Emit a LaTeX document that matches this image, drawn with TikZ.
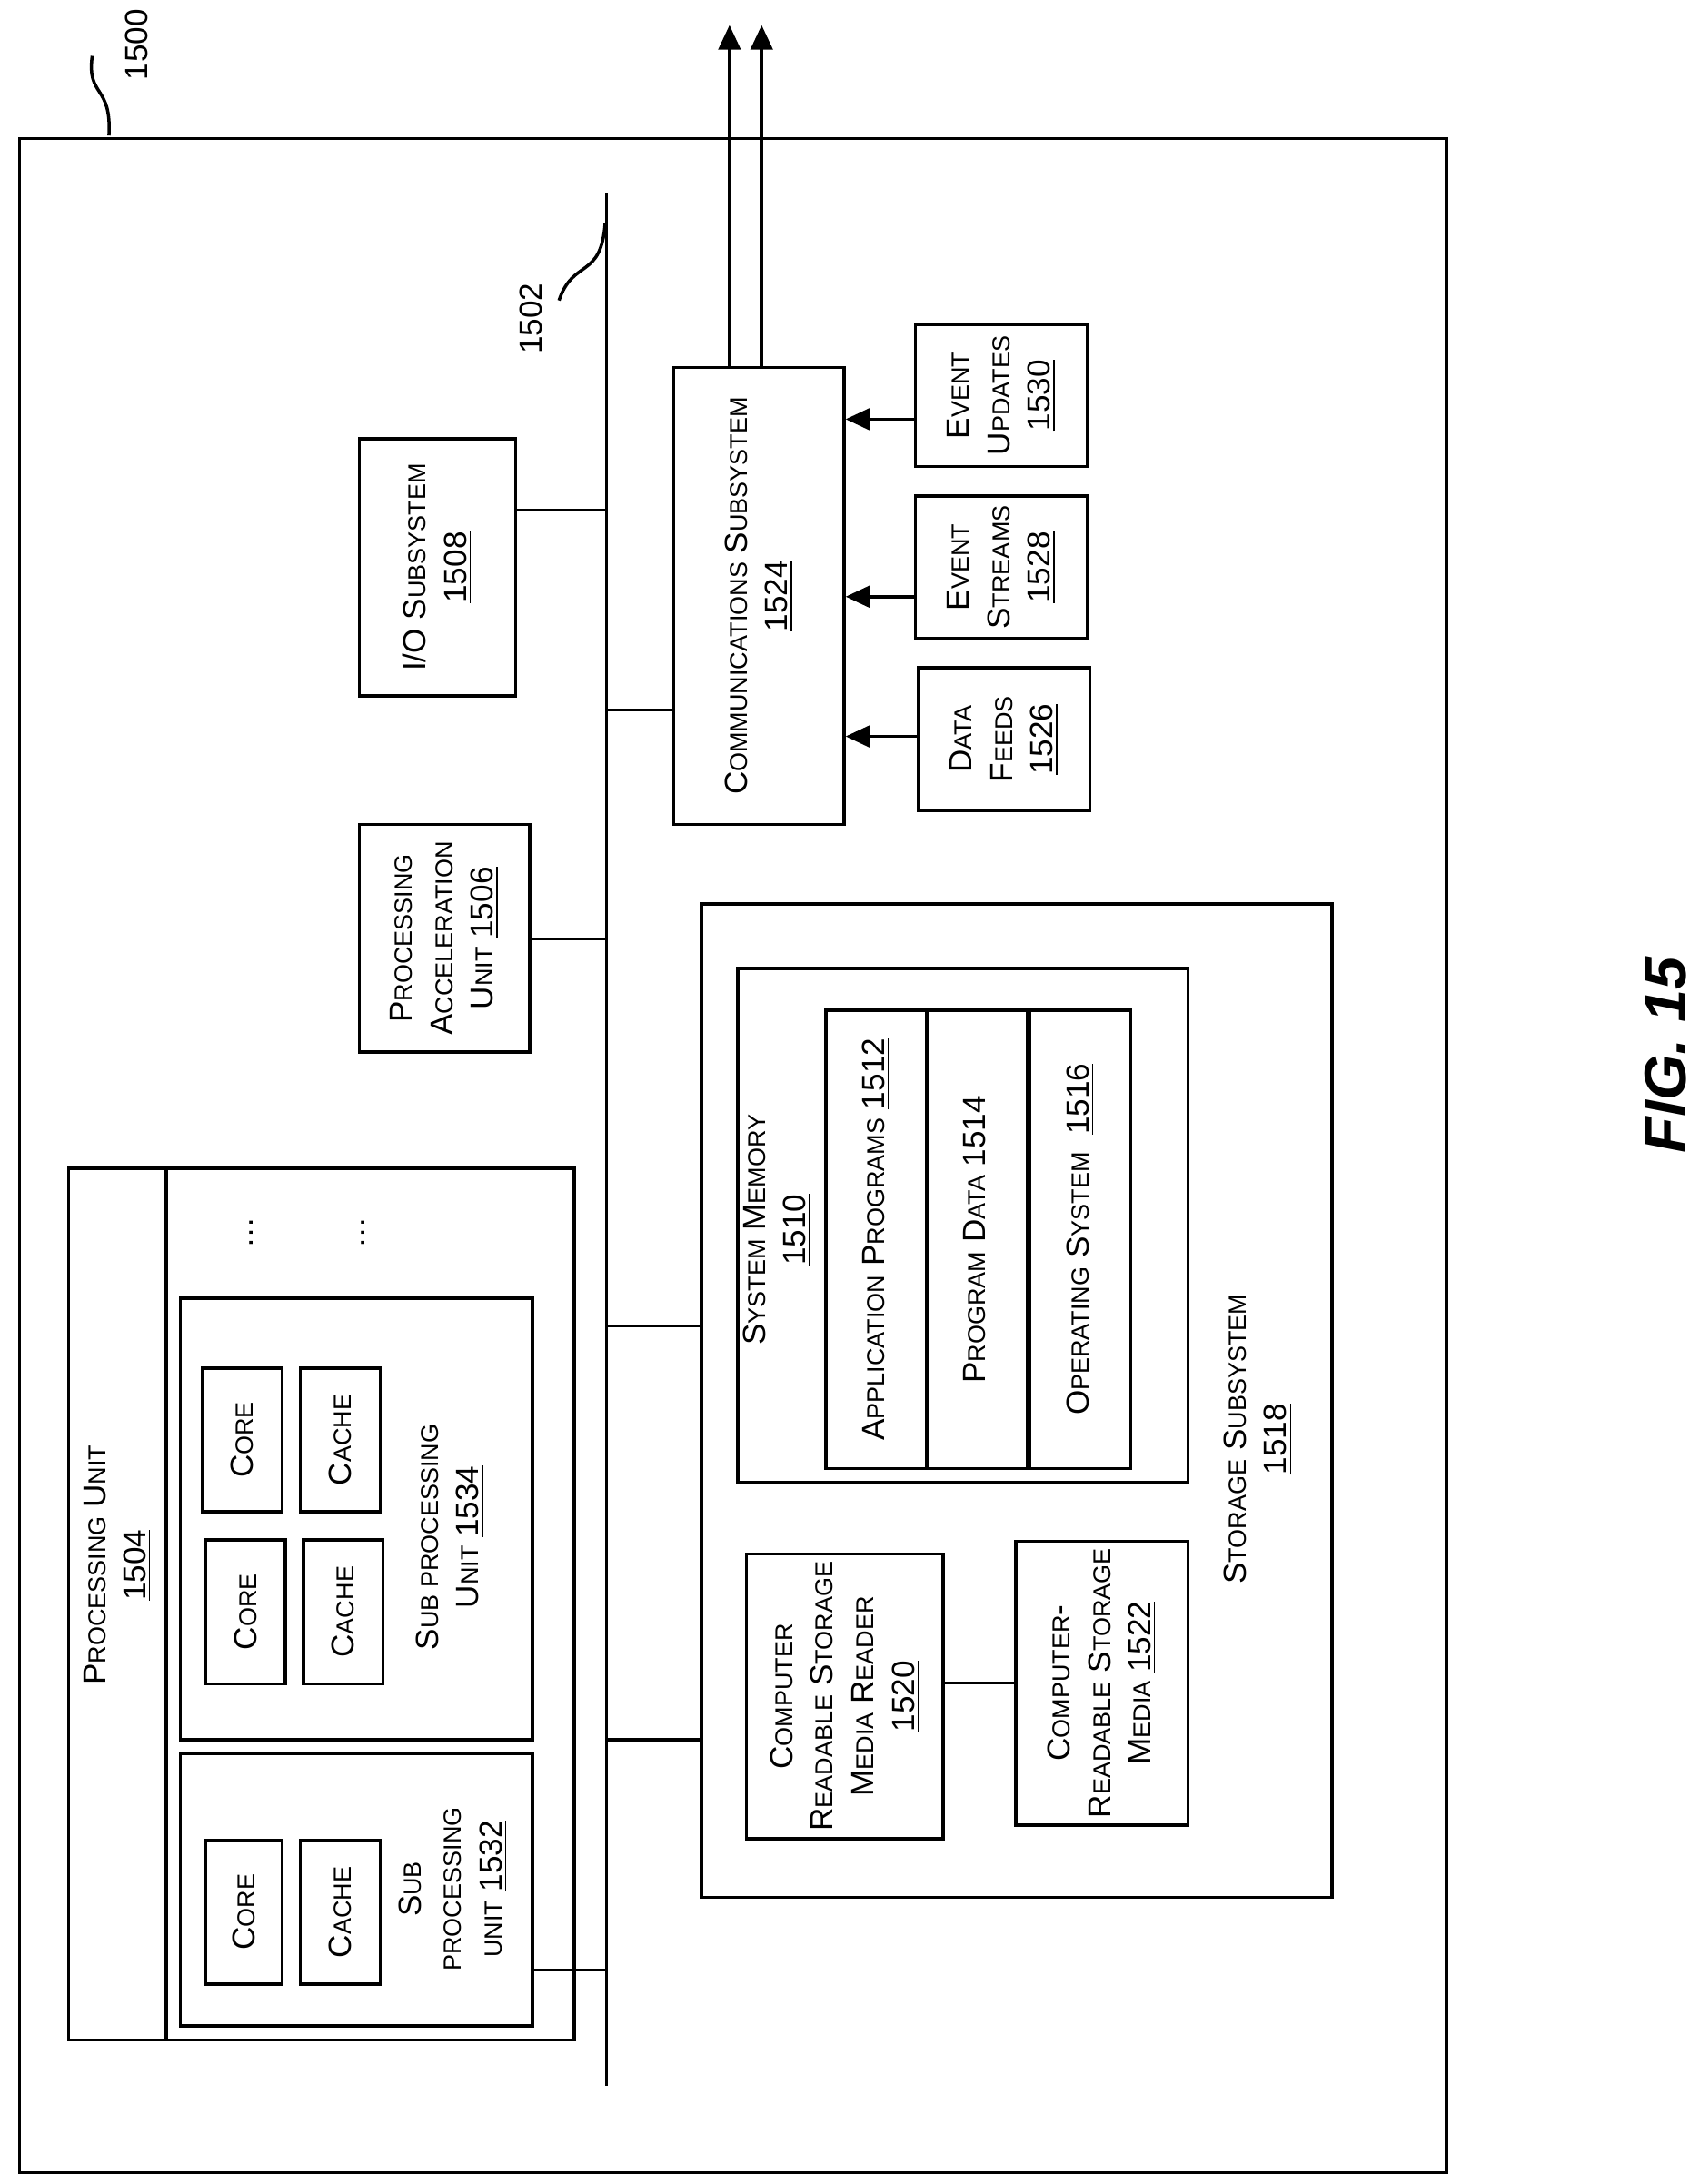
\documentclass[tikz,border=0pt]{standalone}
\usepackage{fontspec}
\setmainfont{Liberation Sans}
\usetikzlibrary{arrows.meta}
\newcommand\sm[1]{{\fontsize{10}{16}\selectfont #1}}
\newcommand\boxat[5]{\node[blk, minimum width={(#4-#2)*0.02cm}, minimum height={(#5-#3)*0.02cm}] (#1) at ({(#2+#4)/2},{(#3+#5)/2}) {};}
\tikzset{
    blk/.style={draw, line width=1.3pt, inner sep=0pt},
    txt/.style={rotate=90, align=center, font=\fontsize{13}{16.5}\selectfont},
    wire/.style={line width=1.3pt},
    arr/.style={line width=1.3pt, -{Triangle[width=9pt,length=10pt]}},
}
\begin{document}
\begin{tikzpicture}[x=0.02cm, y=-0.02cm]
    \useasboundingbox (0,0) rectangle (1216,1563);
    % outer frame
    \boxat{sys}{14}{99}{1035}{1555}
    \node[txt] (sysl) at (98,32) {1500};
    \draw[wire] (78,97) .. controls (80,60) and (62,70) .. (66,40);
    % bus
    \coordinate (busT) at (434,138);
    \coordinate (busB) at (434,1493);
    \draw[wire] (busT) -- (busB);
    \node[txt] (busl) at (380,228) {1502};
    \draw[wire] (433,160) .. controls (430,200) and (410,185) .. (400,215);

    \boxat{io}{257}{314}{369}{498}
    \node[txt] at (io) {I/O S\sm{UBSYSTEM}\\\underline{1508}};
    \boxat{pau}{257}{590}{379}{753}
    \node[txt] at (pau) {P\sm{ROCESSING}\\A\sm{CCELERATION}\\U\sm{NIT} \underline{1506}};
    \boxat{com}{482}{263}{604}{590}
    \node[txt] at (com) {C\sm{OMMUNICATIONS} S\sm{UBSYSTEM}\\\underline{1524}};
    \boxat{evu}{655}{232}{778}{334}
    \node[txt] at (evu) {E\sm{VENT}\\U\sm{PDATES}\\\underline{1530}};
    \boxat{evs}{655}{355}{778}{457}
    \node[txt] at (evs) {E\sm{VENT}\\S\sm{TREAMS}\\\underline{1528}};
    \boxat{df}{657}{478}{780}{580}
    \node[txt] at (df) {D\sm{ATA}\\F\sm{EEDS}\\\underline{1526}};

    % storage
    \boxat{sto}{502}{647}{953}{1358}
    \node[txt] at (900,1030) {S\sm{TORAGE} S\sm{UBSYSTEM}\\\underline{1518}};
    \boxat{mem}{528}{693}{850}{1061}
    \node[txt] at (556,880) {S\sm{YSTEM} M\sm{EMORY}\\\underline{1510}};
    \boxat{app}{591}{723}{663}{1051}
    \node[txt] at (app) {A\sm{PPLICATION} P\sm{ROGRAMS} \underline{1512}};
    \boxat{pd}{663}{723}{735}{1051}
    \node[txt] at (pd) {P\sm{ROGRAM} D\sm{ATA} \underline{1514}};
    \boxat{os}{737}{723}{809}{1051}
    \node[txt] at (os) {O\sm{PERATING} S\sm{YSTEM}\ \ \underline{1516}};
    \boxat{rdr}{534}{1112}{675}{1316}
    \node[txt] at (rdr) {C\sm{OMPUTER}\\R\sm{EADABLE} S\sm{TORAGE}\\M\sm{EDIA} R\sm{EADER}\\\underline{1520}};
    \boxat{med}{727}{1103}{850}{1306}
    \node[txt] at (med) {C\sm{OMPUTER}-\\R\sm{EADABLE} S\sm{TORAGE}\\M\sm{EDIA} \underline{1522}};

    % processing unit
    \boxat{pu}{49}{836}{411}{1460}
    \draw[wire] (119,836) -- (119,1460);
    \node[txt] at (84,1120) {P\sm{ROCESSING} U\sm{NIT}\\\underline{1504}};
    \node[txt] at (180,882) {\dots};
    \node[txt] at (260,882) {\dots};
    \boxat{sp2}{129}{929}{381}{1245}
    \node[txt] at (322,1100) {S\sm{UB PROCESSING}\\U\sm{NIT} \underline{1534}};
    \boxat{c1}{145}{979}{202}{1082}
    \node[txt] at (c1) {C\sm{ORE}};
    \boxat{k1}{215}{979}{272}{1082}
    \node[txt] at (k1) {C\sm{ACHE}};
    \boxat{c2}{147}{1102}{204}{1205}
    \node[txt] at (c2) {C\sm{ORE}};
    \boxat{k2}{217}{1102}{274}{1205}
    \node[txt] at (k2) {C\sm{ACHE}};
    \boxat{sp1}{129}{1255}{381}{1450}
    \node[txt] at (324,1352) {S\sm{UB}\\\sm{PROCESSING}\\\sm{UNIT} \underline{1532}};
    \boxat{c3}{147}{1317}{202}{1420}
    \node[txt] at (c3) {C\sm{ORE}};
    \boxat{k3}{215}{1317}{272}{1420}
    \node[txt] at (k3) {C\sm{ACHE}};

    % connectors
    \coordinate (yio) at (0,365);
    \coordinate (ypau) at (0,672);
    \coordinate (ycom) at (0,508);
    \coordinate (ymem) at (0,949);
    \coordinate (ysto) at (0,1245);
    \coordinate (ypu) at (0,1410);
    \draw[wire] (io.east |- yio) -- (busT |- yio);
    \draw[wire] (pau.east |- ypau) -- (busT |- ypau);
    \draw[wire] (busT |- ycom) -- (com.west |- ycom);
    \draw[wire] (busT |- ymem) -- (sto.west |- ymem);
    \draw[wire] (busT |- ysto) -- (sto.west |- ysto);
    \draw[wire] (sp1.east |- ypu) -- (busT |- ypu);
    \draw[wire] (rdr.east |- med.center) -- (med.west);
    \coordinate (yevu) at (0,300);
    \coordinate (yevs) at (0,427);
    \coordinate (ydf) at (0,527);
    \draw[arr] (evu.west |- yevu) -- (com.east |- yevu);
    \draw[arr] (evs.west |- yevs) -- (com.east |- yevs);
    \draw[arr] (df.west |- ydf) -- (com.east |- ydf);
    \coordinate (outA) at (522,18);
    \coordinate (outB) at (545,18);
    \draw[arr] (com.north -| outA) -- (outA);
    \draw[arr] (com.north -| outB) -- (outB);

    \node[rotate=90, font=\bfseries\itshape\fontsize{24}{28}\selectfont] (fig) at (1192,755) {FIG. 15};
\end{tikzpicture}
\end{document}
